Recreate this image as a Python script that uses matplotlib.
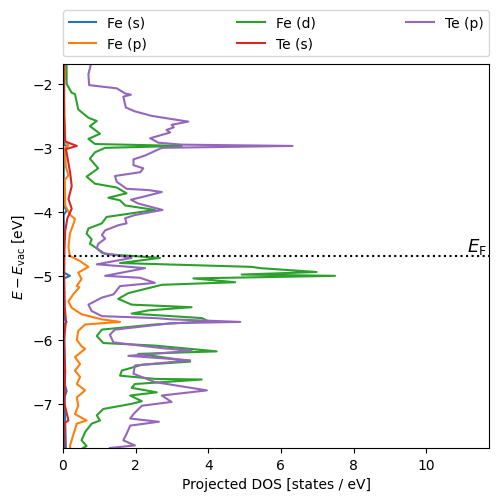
import matplotlib
matplotlib.use("Agg")
import matplotlib.pyplot as plt

# Fermi level and energy window (eV, relative to vacuum)
e_fermi = -4.69
e_window = 3.0

# projected DOS: (energy, dos) pairs per orbital
fe_s_energy = [-1.69, -2.5, -2.95, -2.98, -3.02, -3.9, -3.98, -4.05, -4.95, -5.0, -5.04,
               -5.68, -5.72, -5.76, -6.7, -6.8, -6.9, -7.69]
fe_s_dos = [0.05, 0.01, 0.03, 0.12, 0.02, 0.02, 0.10, 0.02, 0.03, 0.19, 0.03,
            0.03, 0.10, 0.03, 0.05, 0.10, 0.04, 0.08]

fe_p_energy = [-1.69, -2.0, -2.5, -2.9, -2.96, -3.0, -3.3, -3.43, -3.5, -3.9, -4.05, -4.11,
               -4.2, -4.34, -4.55, -4.69, -4.77, -4.86, -4.95, -5.05, -5.16, -5.18, -5.29,
               -5.40, -5.50, -5.60, -5.68, -5.72, -5.76, -5.86, -6.00, -6.10, -6.14, -6.27,
               -6.38, -6.48, -6.58, -6.69, -6.79, -6.90, -7.03, -7.16, -7.26, -7.31, -7.49,
               -7.66, -7.69]
fe_p_dos = [0.08, 0.03, 0.04, 0.06, 0.15, 0.05, 0.08, 0.15, 0.05, 0.06, 0.20, 0.33,
            0.28, 0.19, 0.15, 0.19, 0.47, 0.70, 0.42, 0.51, 0.38, 0.45, 0.28,
            0.15, 0.24, 0.51, 1.07, 1.57, 0.61, 0.42, 0.38, 0.51, 0.61, 0.33,
            0.47, 0.33, 0.47, 0.38, 0.61, 0.38, 0.42, 0.33, 0.65, 0.38, 0.28,
            0.19, 0.20]

fe_d_energy = [-1.69, -2.00, -2.14, -2.16, -2.40, -2.53, -2.58, -2.66, -2.78, -2.86, -2.94,
               -2.97, -3.00, -3.07, -3.17, -3.32, -3.45, -3.56, -3.62, -3.71, -3.78, -3.82,
               -3.90, -3.97, -4.08, -4.18, -4.26, -4.34, -4.43, -4.50, -4.57, -4.66, -4.72,
               -4.80, -4.86, -4.88, -4.94, -4.98, -5.00, -5.04, -5.10, -5.14, -5.27, -5.36,
               -5.45, -5.49, -5.54, -5.59, -5.66, -5.71, -5.76, -5.84, -5.94, -6.05, -6.09,
               -6.18, -6.22, -6.31, -6.34, -6.39, -6.48, -6.56, -6.61, -6.62, -6.69, -6.75,
               -6.82, -6.87, -6.96, -7.00, -7.08, -7.18, -7.26, -7.31, -7.44, -7.57, -7.66,
               -7.69]
fe_d_dos = [0.10, 0.10, 0.24, 0.33, 0.42, 0.70, 0.93, 0.74, 1.02, 0.70, 0.88,
            3.27, 1.16, 0.88, 0.74, 0.97, 0.65, 0.88, 1.48, 1.75, 1.25, 1.57,
            1.71, 2.53, 1.20, 1.07, 0.70, 0.65, 0.79, 0.74, 0.93, 1.16, 2.67,
            1.57, 5.20, 5.43, 6.98, 4.92, 7.49, 3.59, 4.74, 2.72, 1.80, 1.52,
            1.89, 3.54, 2.35, 1.89, 3.82, 4.00, 2.53, 1.07, 0.93, 1.11, 2.53,
            4.23, 2.07, 3.22, 3.50, 2.17, 1.62, 1.57, 2.53, 3.82, 1.98, 1.89,
            2.58, 1.85, 2.17, 1.89, 1.11, 0.93, 1.02, 0.79, 0.61, 0.51, 0.65,
            0.55]

te_s_energy = [-1.69, -2.5, -2.9, -2.97, -3.02, -3.14, -3.4, -3.6, -3.8, -3.95, -4.1, -4.3,
               -4.6, -5.0, -5.5, -5.7, -6.0, -6.5, -7.0, -7.26, -7.3, -7.69]
te_s_dos = [0.02, 0.03, 0.06, 0.38, 0.08, 0.12, 0.20, 0.24, 0.15, 0.24, 0.12, 0.06,
            0.04, 0.03, 0.05, 0.08, 0.03, 0.06, 0.04, 0.15, 0.05, 0.03]

te_p_energy = [-1.69, -1.85, -2.02, -2.07, -2.15, -2.17, -2.20, -2.37, -2.43, -2.50, -2.55,
               -2.59, -2.64, -2.68, -2.72, -2.76, -2.85, -2.92, -2.95, -2.97, -3.00, -3.12,
               -3.18, -3.27, -3.32, -3.38, -3.44, -3.53, -3.64, -3.66, -3.69, -3.77, -3.81,
               -3.87, -3.97, -4.05, -4.10, -4.18, -4.21, -4.29, -4.36, -4.42, -4.50, -4.57,
               -4.64, -4.72, -4.82, -4.85, -4.88, -5.00, -5.03, -5.11, -5.16, -5.29, -5.34,
               -5.45, -5.55, -5.63, -5.66, -5.68, -5.72, -5.74, -5.84, -5.92, -6.04, -6.13,
               -6.17, -6.25, -6.32, -6.40, -6.53, -6.66, -6.79, -6.87, -6.97, -7.03, -7.16,
               -7.23, -7.28, -7.34, -7.47, -7.57, -7.65, -7.69]
te_p_dos = [0.77, 0.70, 0.72, 1.48, 1.71, 1.87, 1.66, 1.73, 1.98, 2.44, 2.99,
            3.45, 2.99, 3.05, 2.85, 2.95, 2.40, 2.63, 3.27, 6.32, 2.72, 2.26,
            1.94, 1.94, 2.21, 2.13, 1.43, 1.48, 1.75, 2.35, 2.72, 2.17, 1.87,
            2.07, 2.74, 1.98, 1.71, 1.75, 1.52, 1.16, 1.07, 1.16, 0.97, 0.93,
            1.07, 1.89, 0.93, 1.62, 2.26, 1.16, 2.12, 2.53, 1.57, 1.39, 1.07,
            0.70, 0.79, 1.07, 2.53, 2.99, 4.88, 2.99, 1.43, 1.29, 1.39, 2.72,
            3.54, 1.80, 3.50, 1.98, 1.94, 2.53, 3.96, 2.72, 2.99, 2.17, 1.94,
            1.85, 2.64, 1.85, 1.75, 1.66, 1.98, 1.29]

fig, ax = plt.subplots(figsize=(4.98, 5.02), dpi=100)
fig.subplots_adjust(left=0.1265, right=0.982, bottom=0.1056, top=0.8705)

ax.plot(fe_s_dos, fe_s_energy, label="Fe (s)")
ax.plot(fe_p_dos, fe_p_energy, label="Fe (p)")
ax.plot(fe_d_dos, fe_d_energy, label="Fe (d)")
ax.plot(te_s_dos, te_s_energy, label="Te (s)")
ax.plot(te_p_dos, te_p_energy, label="Te (p)", color="tab:purple")

xmax = 11.73
ax.axhline(e_fermi, color="k", ls=":", lw=1.5)
ax.text(xmax * 0.995, e_fermi, r"$E_\mathrm{F}$", ha="right", va="bottom", fontsize=13)

ax.set_xlim(0, xmax)
ax.set_ylim(e_fermi - e_window, e_fermi + e_window)
ax.set_xlabel("Projected DOS [states / eV]")
ax.set_ylabel(r"$E - E_\mathrm{vac}$ [eV]")

ax.legend(bbox_to_anchor=(0., 1.02, 1., .102), loc="lower left", ncol=3,
          mode="expand", borderaxespad=0.)

fig.savefig("out.png")
